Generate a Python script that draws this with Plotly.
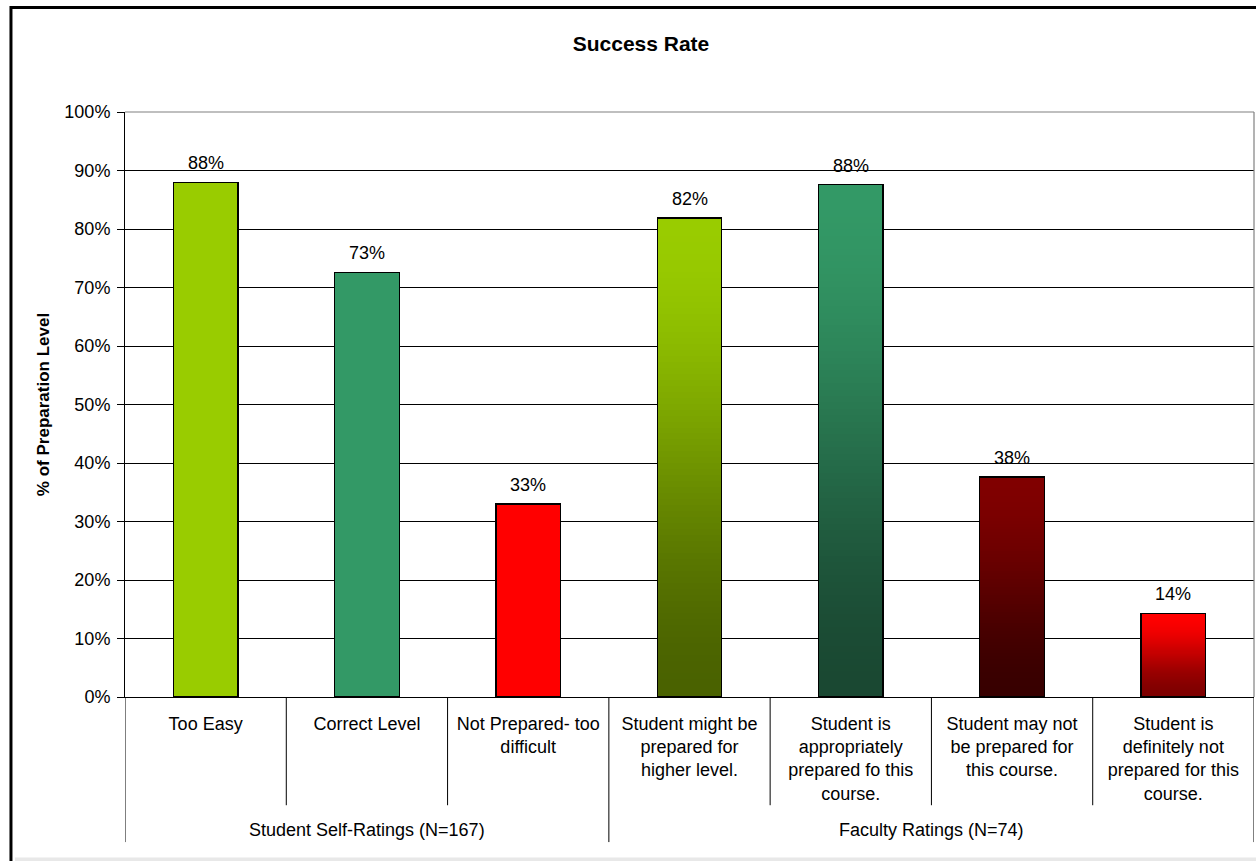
import plotly.graph_objects as go

# ---- data -------------------------------------------------------------
categories = [
    "Too Easy",
    "Correct Level",
    "Not Prepared- too difficult",
    "Student might be prepared for higher level.",
    "Student is appropriately prepared fo this course.",
    "Student may not be prepared for this course.",
    "Student is definitely not prepared for this course.",
]
tick_labels = [
    "Too Easy",
    "Correct Level",
    "Not Prepared- too<br>difficult",
    "Student might be<br>prepared for<br>higher level.",
    "Student is<br>appropriately<br>prepared fo this<br>course.",
    "Student may not<br>be prepared for<br>this course.",
    "Student is<br>definitely not<br>prepared for this<br>course.",
]
success_rate = [0.88, 0.726, 0.33, 0.819, 0.876, 0.376, 0.143]
group_names = ["Student Self-Ratings (N=167)", "Faculty Ratings (N=74)"]
group_sizes = [3, 4]

# top colour / bottom colour of each bar (same colour = solid fill)
top_colors = ["#99CC00", "#339966", "#FF0000", "#99CC00", "#339966", "#800000", "#FF0000"]
bottom_colors = ["#99CC00", "#339966", "#FF0000", "#4A6200", "#1A4832", "#380000", "#7E0000"]

FONT = "Liberation Sans, Arial, sans-serif"
N_SLICES = 80


def hex_to_rgb(h):
    h = h.lstrip("#")
    return tuple(int(h[i:i + 2], 16) for i in (0, 2, 4))


def blend(c_top, c_bot, t):
    """t = 0 at the top of the bar, 1 at the bottom (smooth easing)."""
    s = 3 * t * t - 2 * t * t * t
    a, b = hex_to_rgb(c_top), hex_to_rgb(c_bot)
    r, g, bl = (round(a[i] + (b[i] - a[i]) * s) for i in range(3))
    return f"rgb({r},{g},{bl})"


fig = go.Figure()

# gradient fill: every bar is stacked from thin slices of its own value
for k in range(N_SLICES):
    t = 1 - (k + 0.5) / N_SLICES
    fig.add_trace(go.Bar(
        x=categories,
        y=[v / N_SLICES for v in success_rate],
        marker=dict(color=[blend(tc, bc, t) for tc, bc in zip(top_colors, bottom_colors)],
                    line=dict(width=0)),
        showlegend=False,
        hoverinfo="skip",
        xaxis="x", yaxis="y",
    ))

# black outline of each bar, on an overlaid axis so it does not stack
fig.add_trace(go.Bar(
    x=categories,
    y=success_rate,
    marker=dict(color="rgba(0,0,0,0)", line=dict(color="black", width=1.3)),
    showlegend=False,
    hovertemplate="%{x}: %{y:.0%}<extra></extra>",
    xaxis="x2", yaxis="y",
))

# value labels above the bars
for cat, v in zip(categories, success_rate):
    fig.add_annotation(
        x=cat, y=v, xref="x", yref="y",
        text=f"{v:.0%}", showarrow=False,
        yanchor="bottom", yshift=7,
        font=dict(family=FONT, size=18, color="black"),
    )

# category separators and group labels below the axis
inner_bottom = -0.185
outer_bottom = -0.248
start = 0
boundaries_outer = [-0.5]
for name, size in zip(group_names, group_sizes):
    end = start + size
    for b in range(start, end - 1):
        fig.add_shape(type="line", xref="x", yref="paper",
                      x0=b + 0.5, x1=b + 0.5, y0=0, y1=inner_bottom,
                      line=dict(color="black", width=1))
    boundaries_outer.append(end - 0.5)
    fig.add_annotation(
        x=(start + end - 1) / 2, y=-0.227, xref="x", yref="paper",
        text=name, showarrow=False, yanchor="middle",
        font=dict(family=FONT, size=18, color="black"),
    )
    start = end
for b in boundaries_outer:
    fig.add_shape(type="line", xref="x", yref="paper",
                  x0=b, x1=b, y0=0, y1=outer_bottom,
                  line=dict(color="black", width=1))

# plot-area border (top and right edges)
fig.add_shape(type="line", xref="paper", yref="paper", x0=0, x1=1, y0=1, y1=1,
              line=dict(color="#808080", width=1.2), layer="above")
fig.add_shape(type="line", xref="paper", yref="paper", x0=1, x1=1, y0=0, y1=1,
              line=dict(color="#808080", width=1.2), layer="above")

# chart frame
fig.add_shape(type="rect", xref="paper", yref="paper",
              x0=-0.101, x1=1.03, y0=-0.40, y1=1.1786,
              line=dict(color="black", width=3), fillcolor="rgba(0,0,0,0)",
              layer="above")
fig.add_shape(type="rect", xref="paper", yref="paper",
              x0=-0.0975, x1=1.01, y0=-0.2744, y1=-0.2815,
              line=dict(width=0), fillcolor="#E8E8E8", layer="below")

fig.update_layout(
    width=1256, height=861, autosize=False,
    margin=dict(l=125, r=2, t=112, b=164),
    paper_bgcolor="white", plot_bgcolor="white",
    barmode="stack", bargap=0.6,
    font=dict(family=FONT, size=18, color="black"),
    title=dict(
        text="<b>Success Rate</b>",
        x=641 / 1256, xref="container", xanchor="center",
        y=1 - 44 / 861, yref="container", yanchor="middle",
        font=dict(family=FONT, size=21, color="black"),
    ),
    xaxis=dict(
        type="category", categoryorder="array", categoryarray=categories,
        range=[-0.5, len(categories) - 0.5],
        tickmode="array", tickvals=categories, ticktext=tick_labels,
        ticks="", showgrid=False, zeroline=False,
        showline=True, linecolor="black", linewidth=1,
        tickfont=dict(family=FONT, size=18, color="black"),
        ticklabelstandoff=10,
    ),
    xaxis2=dict(
        type="category", categoryorder="array", categoryarray=categories,
        range=[-0.5, len(categories) - 0.5],
        overlaying="x", visible=False,
    ),
    yaxis=dict(
        range=[0, 1], dtick=0.1, tickformat=".0%",
        showgrid=True, gridcolor="black", gridwidth=1,
        zeroline=False, showline=True, linecolor="black", linewidth=1,
        ticks="outside", ticklen=7, tickcolor="black",
        tickfont=dict(family=FONT, size=18, color="black"),
        ticklabelstandoff=3,
        title=dict(text="<b>% of Preparation Level</b>",
                   font=dict(family=FONT, size=17, color="black"), standoff=10),
    ),
)

fig.write_html("out.html")
